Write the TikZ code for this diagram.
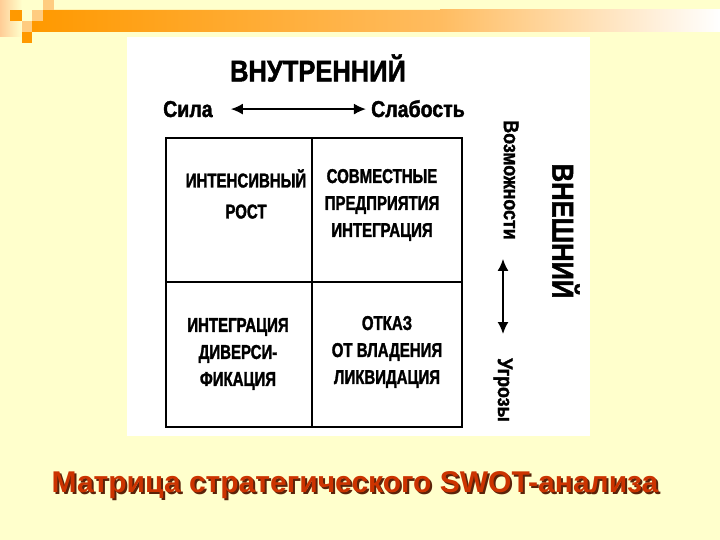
\documentclass[tikz,border=0pt]{standalone}
\definecolor{creamyellow}{RGB}{255,255,204}
\definecolor{darkorange}{RGB}{255,153,0}
\definecolor{lightorange}{RGB}{255,204,128}
\definecolor{midorange}{RGB}{255,188,96}
\definecolor{peachorange}{RGB}{255,205,150}
\definecolor{titlered}{RGB}{204,51,0}
\definecolor{titleshadow}{RGB}{90,35,10}
\usepackage{fontspec}
\setmainfont{Liberation Sans}
\newfontfamily\headfont[FakeStretch=0.85,FakeBold=1.6]{Liberation Sans}
\newfontfamily\scanfont[FakeStretch=0.75,FakeBold=1.6]{Liberation Sans}
\usetikzlibrary{arrows.meta}

\begin{document}
\begin{tikzpicture}[x=1pt,y=-1pt,
    headtext/.style={font=\headfont\bfseries\fontsize{30}{36}\selectfont, inner sep=0pt},
    sidetext/.style={font=\headfont\bfseries\fontsize{23}{28}\selectfont, inner sep=0pt},
    edgetext/.style={font=\headfont\bfseries\fontsize{21}{26}\selectfont, inner sep=0pt, rotate=-90},
    celltext/.style={font=\scanfont\bfseries\fontsize{20}{27}\selectfont, align=center, inner sep=0pt},
    titletext/.style={font=\bfseries\fontsize{30}{36}\selectfont, inner sep=0pt, anchor=base},
    dblarrow/.style={{Latex[length=12pt,width=11pt]}-{Latex[length=12pt,width=11pt]}, line width=1.8pt},
    gridline/.style={line width=2pt}]
    \useasboundingbox (0,0) rectangle (720,540);
    \fill[creamyellow] (0,0) rectangle (720,540);
    \shade[left color=peachorange, right color=creamyellow] (0,0) rectangle (22,37);
    \shade[left color=darkorange, right color=midorange] (43,10) -- (440,10) -- (440,32) -- (32,32) -- (32,21) -- (43,21) -- cycle;
    \shade[left color=midorange, right color=white] (440,10) rectangle (720,32);
    \fill[darkorange] (10,10) rectangle (22,21);
    \fill[lightorange] (32,10) rectangle (43,21);
    \fill[lightorange] (43,0) rectangle (54,10);
    \fill[lightorange] (22,21) rectangle (32,32);
    \fill[darkorange] (22,32) rectangle (32,43);

    \fill[white] (127,37) rectangle (590,436);

    \node[headtext] (internal) at (318,68) {ВНУТРЕННИЙ};
    \node[sidetext, anchor=base west] (strength) at (163,117) {Сила};
    \node[sidetext, anchor=base east] (weakness) at (465,117) {Слабость};
    \draw[dblarrow, shorten <=18pt, shorten >=5pt] (strength.east) -- (weakness.west |- strength.east);

    \draw[gridline] (166,138) rectangle (462,427);
    \draw[gridline] (312,138) -- (312,427);
    \draw[gridline] (166,282) -- (462,282);

    \node[celltext] (growth) at (246,194) {ИНТЕНСИВНЫЙ\\[4pt]РОСТ};
    \node[celltext] (joint) at (382,205) {СОВМЕСТНЫЕ\\ПРЕДПРИЯТИЯ\\ИНТЕГРАЦИЯ};
    \node[celltext] (diversify) at (238,354) {ИНТЕГРАЦИЯ\\ДИВЕРСИ-\\ФИКАЦИЯ};
    \node[celltext] (divest) at (387,352) {ОТКАЗ\\ОТ ВЛАДЕНИЯ\\ЛИКВИДАЦИЯ};

    \node[edgetext] (chances) at (511,180) {Возможности};
    \node[edgetext] (threats) at (503,390) {Угрозы};
    \draw[dblarrow, shorten <=19pt, shorten >=24pt] (threats.west |- chances.east) -- (threats.west);
    \node[headtext, rotate=-90] (external) at (566,231) {ВНЕШНИЙ};

    \node[titletext, text=titleshadow] (titleback) at (357,494) {Матрица стратегического SWOT-анализа};
    \node[titletext, text=titlered] (title) at (355,492) {Матрица стратегического SWOT-анализа};
\end{tikzpicture}
\end{document}
